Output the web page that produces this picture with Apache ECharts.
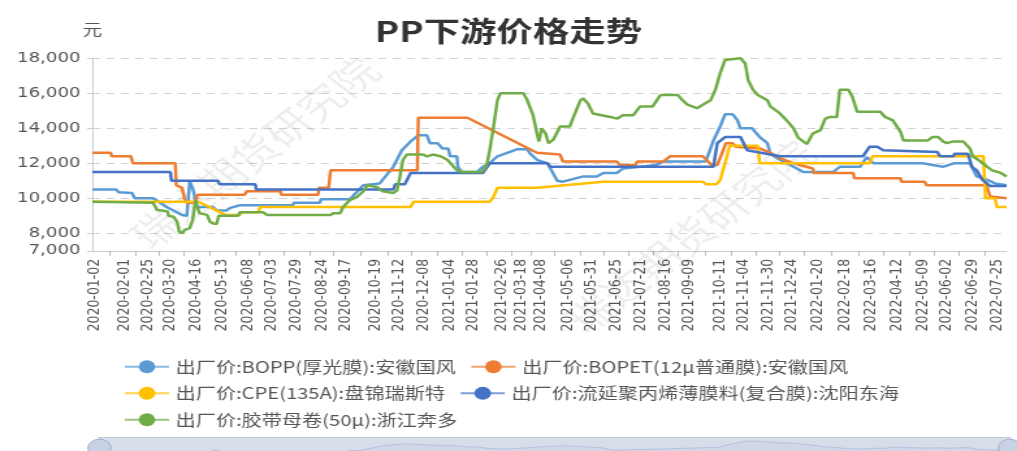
<!DOCTYPE html>
<html>
<head>
<meta charset="utf-8">
<script src="https://cdn.jsdelivr.net/npm/echarts@6.0.0/dist/echarts.min.js"></script>
<style>
  html, body { margin: 0; padding: 0; background: #fff; overflow: hidden; }
  /* the reference picture is stretched sideways, so the chart is drawn narrow and widened */
  #main { width: 782px; height: 451px; transform: scaleX(1.3005); transform-origin: 0 0; }
</style>
</head>
<body>
<div id="main"></div>
<script>
// 图例名称
const seriesNames = [
  '出厂价:BOPP(厚光膜):安徽国风',
  '出厂价:BOPET(12μ普通膜):安徽国风',
  '出厂价:CPE(135A):盘锦瑞斯特',
  '出厂价:流延聚丙烯薄膜料(复合膜):沈阳东海',
  '出厂价:胶带母卷(50μ):浙江奔多'
];
const seriesColors = ['#5b9bd5', '#ed7d31', '#ffc000', '#4472c4', '#70ad47'];

// x 轴显示的日期
const tickLabels = [
  '2020-01-02', '2020-02-01', '2020-02-25', '2020-03-20', '2020-04-16', '2020-05-13',
  '2020-06-08', '2020-07-03', '2020-07-29', '2020-08-24', '2020-09-17', '2020-10-19',
  '2020-11-12', '2020-12-08', '2021-01-04', '2021-01-28', '2021-02-26', '2021-03-18',
  '2021-04-08', '2021-05-06', '2021-05-31', '2021-06-25', '2021-07-21', '2021-08-16',
  '2021-09-09', '2021-10-11', '2021-11-04', '2021-11-30', '2021-12-24', '2022-01-20',
  '2022-02-18', '2022-03-16', '2022-04-12', '2022-05-09', '2022-06-02', '2022-06-29',
  '2022-07-25'
];
const xStart = '2019-12-30';
const xEnd = '2022-08-04';

const boppData = [
  ['2019-12-30',10500],['2020-01-24',10500],['2020-01-26',10350],['2020-02-09',10300],['2020-02-12',10000],
  ['2020-03-02',10000],['2020-03-16',9500],['2020-03-23',9300],['2020-04-01',9050],['2020-04-06',9000],
  ['2020-04-08',9000],['2020-04-09',11000],['2020-04-13',10400],['2020-04-16',9500],['2020-05-03',9500],
  ['2020-05-07',9300],['2020-05-17',9300],['2020-05-21',9450],['2020-05-31',9600],['2020-07-25',9600],
  ['2020-07-26',9750],['2020-08-22',9750],['2020-08-23',9950],['2020-09-22',9950],['2020-10-06',10750],
  ['2020-10-23',10850],['2020-11-06',11800],['2020-11-15',12750],['2020-11-24',13250],['2020-12-02',13600],
  ['2020-12-11',13600],['2020-12-14',13150],['2020-12-22',13150],['2020-12-27',12850],['2021-01-02',12850],
  ['2021-01-04',12400],['2021-01-11',12400],['2021-01-12',11800],['2021-01-16',11500],['2021-02-01',11500],
  ['2021-02-07',11800],['2021-02-14',12000],['2021-02-22',12400],['2021-03-07',12650],['2021-03-14',12800],
  ['2021-03-25',12800],['2021-03-28',12550],['2021-04-04',12200],['2021-04-15',12000],['2021-04-25',11000],
  ['2021-05-01',10950],['2021-05-22',11250],['2021-06-05',11250],['2021-06-12',11450],['2021-06-26',11450],
  ['2021-07-02',11700],['2021-07-20',11800],['2021-08-05',11900],['2021-08-13',12100],['2021-09-26',12100],
  ['2021-10-04',13300],['2021-10-11',14100],['2021-10-16',14800],['2021-10-24',14800],['2021-10-29',14450],
  ['2021-11-01',14000],['2021-11-13',14000],['2021-11-21',13500],['2021-11-29',13150],['2021-12-02',12550],
  ['2021-12-12',12200],['2021-12-26',11800],['2022-01-05',11500],['2022-02-05',11500],['2022-02-12',11800],
  ['2022-03-05',11800],['2022-03-12',12350],['2022-03-19',12000],['2022-05-03',12000],['2022-05-04',11900],
  ['2022-05-09',12000],['2022-05-30',11800],['2022-06-10',12000],['2022-06-27',12000],['2022-07-04',11250],
  ['2022-07-15',11050],['2022-07-23',10850],['2022-08-04',10750]
];

const bopetData = [
  ['2019-12-30',12600],['2020-01-18',12600],['2020-01-19',12400],['2020-02-08',12400],['2020-02-10',12000],
  ['2020-03-25',12000],['2020-03-26',10750],['2020-04-01',10600],['2020-04-04',9900],['2020-04-06',9750],
  ['2020-04-15',9750],['2020-04-17',10200],['2020-06-05',10200],['2020-06-07',10400],['2020-07-12',10400],
  ['2020-07-13',10200],['2020-08-20',10200],['2020-08-21',10600],['2020-08-31',10600],['2020-09-02',11600],
  ['2020-12-01',11600],['2020-12-02',14600],['2021-01-22',14600],['2021-04-04',12600],['2021-04-28',12500],
  ['2021-05-01',12100],['2021-06-26',12100],['2021-06-29',11900],['2021-07-15',11900],['2021-07-17',12100],
  ['2021-08-13',12100],['2021-08-20',12400],['2021-09-23',12400],['2021-10-02',11900],['2021-10-08',11900],
  ['2021-10-17',13150],['2021-10-24',13150],['2021-10-27',12950],['2021-11-21',12850],['2021-12-02',12600],
  ['2021-12-12',12300],['2021-12-26',12000],['2022-01-15',11700],['2022-01-16',11450],['2022-02-26',11450],
  ['2022-02-27',11150],['2022-04-16',11150],['2022-04-17',10950],['2022-05-11',10950],['2022-05-13',10750],
  ['2022-07-14',10750],['2022-07-18',10100],['2022-07-20',10000],['2022-08-04',10000]
];

const cpeData = [
  ['2019-12-30',9800],['2020-04-18',9800],['2020-05-16',9050],['2020-05-31',9050],['2020-06-01',9200],
  ['2020-06-19',9200],['2020-06-21',9500],['2020-11-24',9500],['2020-11-27',9800],['2021-02-14',9800],
  ['2021-02-18',10100],['2021-02-22',10600],['2021-04-04',10600],['2021-06-12',10950],['2021-09-23',10950],
  ['2021-09-26',10800],['2021-10-07',10800],['2021-10-11',11050],['2021-10-16',12000],['2021-10-21',13000],
  ['2021-11-19',13000],['2021-11-21',12000],['2022-03-15',12000],['2022-03-18',12400],['2022-07-11',12400],
  ['2022-07-13',10000],['2022-07-23',10000],['2022-07-25',9500],['2022-08-04',9500]
];

const castData = [
  ['2019-12-30',11500],['2020-03-20',11500],['2020-03-21',11000],['2020-05-08',11000],['2020-05-10',10800],
  ['2020-06-16',10800],['2020-06-17',10500],['2020-11-06',10500],['2020-11-08',10800],['2020-11-18',10800],
  ['2020-11-24',11450],['2021-02-07',11450],['2021-02-14',12000],['2021-04-15',12000],['2021-04-18',11800],
  ['2021-10-04',11800],['2021-10-08',13150],['2021-10-16',13500],['2021-11-01',13500],['2021-11-08',12750],
  ['2021-12-12',12400],['2022-03-08',12400],['2022-03-15',12950],['2022-03-23',12950],['2022-03-29',12750],
  ['2022-05-24',12650],['2022-05-27',12400],['2022-06-10',12400],['2022-06-11',12550],['2022-06-25',12550],
  ['2022-06-29',11800],['2022-07-04',11600],['2022-07-10',11050],['2022-07-18',10700],['2022-08-04',10700]
];

const tapeData = [
  ['2019-12-30',9800],['2020-03-02',9750],['2020-03-06',9350],['2020-03-17',9250],['2020-03-18',9000],
  ['2020-03-23',8950],['2020-03-27',8650],['2020-03-29',8100],['2020-04-01',8000],['2020-04-04',8200],
  ['2020-04-09',8300],['2020-04-12',8750],['2020-04-15',9900],['2020-04-17',10000],['2020-04-19',9150],
  ['2020-04-27',9050],['2020-04-30',8650],['2020-05-04',8550],['2020-05-07',8550],['2020-05-09',9000],
  ['2020-05-29',9000],['2020-05-31',9200],['2020-06-24',9200],['2020-06-28',9050],['2020-09-02',9050],
  ['2020-09-05',9150],['2020-09-12',9150],['2020-09-15',9500],['2020-09-22',9900],['2020-09-30',10100],
  ['2020-10-06',10400],['2020-10-10',10750],['2020-10-20',10650],['2020-10-26',10400],['2020-10-28',10300],
  ['2020-11-06',10300],['2020-11-10',10450],['2020-11-13',11250],['2020-11-16',12200],['2020-11-20',12500],
  ['2020-12-07',12500],['2020-12-11',12400],['2020-12-17',12500],['2020-12-25',12400],['2021-01-01',12200],
  ['2021-01-11',11600],['2021-01-16',11500],['2021-02-06',11500],['2021-02-11',11900],['2021-02-14',12750],
  ['2021-02-18',14100],['2021-02-22',15600],['2021-02-25',16000],['2021-03-21',16000],['2021-03-25',15600],
  ['2021-03-31',14750],['2021-04-04',13700],['2021-04-06',13250],['2021-04-09',14000],['2021-04-13',13700],
  ['2021-04-16',13150],['2021-04-21',13350],['2021-04-28',14100],['2021-05-08',14100],['2021-05-12',14650],
  ['2021-05-19',15600],['2021-05-22',15700],['2021-05-27',15400],['2021-06-01',14850],['2021-06-19',14650],
  ['2021-06-26',14550],['2021-07-02',14750],['2021-07-13',14750],['2021-07-20',15250],['2021-08-02',15250],
  ['2021-08-10',15900],['2021-08-28',15900],['2021-09-02',15600],['2021-09-07',15350],['2021-09-17',15150],
  ['2021-09-23',15350],['2021-10-01',15600],['2021-10-06',16200],['2021-10-11',17150],['2021-10-16',17900],
  ['2021-10-18',18000],['2021-11-01',18000],['2021-11-06',17700],['2021-11-09',16750],['2021-11-14',16200],
  ['2021-11-19',15900],['2021-11-29',15600],['2021-12-02',15250],['2021-12-12',14850],['2021-12-19',14450],
  ['2021-12-26',14000],['2021-12-31',13450],['2022-01-09',13100],['2022-01-15',13700],['2022-01-23',13900],
  ['2022-01-28',14550],['2022-02-02',14650],['2022-02-09',14650],['2022-02-12',16200],['2022-02-21',16200],
  ['2022-02-25',15800],['2022-03-02',14950],['2022-03-26',14950],['2022-03-31',14650],['2022-04-08',14450],
  ['2022-04-16',13800],['2022-04-19',13300],['2022-05-14',13300],['2022-05-19',13500],['2022-05-25',13500],
  ['2022-05-30',13250],['2022-06-03',13150],['2022-06-10',13250],['2022-06-20',13250],['2022-06-27',12850],
  ['2022-06-30',12400],['2022-07-08',12100],['2022-07-15',11800],['2022-07-20',11600],['2022-07-29',11450],
  ['2022-08-04',11250]
];

const allData = [boppData, bopetData, cpeData, castData, tapeData];

function parseDay(s) {
  const p = s.split('-');
  return new Date(+p[0], +p[1] - 1, +p[2]).getTime();
}
function pad(n) { return n < 10 ? '0' + n : '' + n; }
function fmtDay(v) {
  const d = new Date(v);
  return d.getFullYear() + '-' + pad(d.getMonth() + 1) + '-' + pad(d.getDate());
}

// 日期转成时间戳，画在数值轴上
const labelTimes = tickLabels.map(parseDay);
const tickTimes = [];
for (let i = 0; i < labelTimes.length - 1; i++) {
  tickTimes.push((labelTimes[i] + labelTimes[i + 1]) / 2);
}

const chart = echarts.init(document.getElementById('main'));
chart.setOption({
  animation: false,
  color: seriesColors,
  title: {
    text: 'PP下游价格走势',
    left: 'center',
    top: 12,
    textStyle: { fontSize: 28, fontWeight: 'bold', color: '#333', fontFamily: 'Noto Sans CJK SC' }
  },
  graphic: [
    {
      type: 'text', x: 196, y: 153, rotation: Math.PI / 4, z: 1, silent: true,
      style: { text: '瑞达期货研究院', fontSize: 36, fontFamily: 'Noto Sans CJK SC',
        fill: 'rgba(0,0,0,0.07)', align: 'center', verticalAlign: 'middle' }
    },
    {
      type: 'text', x: 531, y: 236, rotation: Math.PI / 4, z: 1, silent: true,
      style: { text: '瑞达期货研究院', fontSize: 36, fontFamily: 'Noto Sans CJK SC',
        fill: 'rgba(0,0,0,0.07)', align: 'center', verticalAlign: 'middle' }
    }
  ],
  legend: {
    left: 90,
    right: 40,
    top: 354,
    itemWidth: 34,
    itemHeight: 16,
    itemGap: 11,
    lineStyle: { width: 2, opacity: 0.7 },
    textStyle: { fontSize: 15.5, color: '#555', fontFamily: 'Noto Sans CJK SC' },
    data: seriesNames
  },
  grid: { left: 71, right: 8, top: 58.3, bottom: 200.2 },
  xAxis: {
    type: 'value',
    min: parseDay(xStart),
    max: parseDay(xEnd),
    splitLine: { show: false },
    axisLine: { show: true, lineStyle: { color: '#ccc' } },
    axisTick: { show: true, length: 5, customValues: tickTimes, lineStyle: { color: '#bbb' } },
    axisLabel: {
      rotate: 90,
      customValues: labelTimes,
      formatter: fmtDay,
      fontSize: 12.5,
      fontFamily: 'DejaVu Sans',
      color: '#555',
      margin: 8
    }
  },
  yAxis: {
    type: 'value',
    min: 7000,
    max: 18000,
    name: '元',
    nameLocation: 'end',
    nameGap: 22,
    nameTextStyle: { fontSize: 15, color: '#555', fontFamily: 'Noto Sans CJK SC' },
    axisLine: { show: true, lineStyle: { color: '#ccc' } },
    axisTick: { show: true, length: 4, lineStyle: { color: '#ccc' } },
    axisLabel: { fontSize: 14, color: '#555', fontFamily: 'DejaVu Sans', margin: 9 },
    splitLine: { lineStyle: { type: [6, 5], color: '#d3d3d3' } }
  },
  dataZoom: [{
    type: 'slider',
    xAxisIndex: 0,
    start: 0,
    end: 100,
    filterMode: 'none',
    top: 437,
    height: 22,
    left: 73,
    right: 7,
    showDetail: false,
    brushSelect: false,
    moveHandleSize: 0,
    handleIcon: 'circle',
    handleSize: '80%',
    handleStyle: { color: '#c8d2e3', borderColor: '#9fb0cc' },
    backgroundColor: 'rgba(210,218,232,0.6)',
    fillerColor: 'rgba(190,200,220,0.35)',
    borderColor: '#c3cbda',
    dataBackground: {
      lineStyle: { color: '#b5c0d4', width: 1 },
      areaStyle: { color: '#d5dbe8' }
    }
  }],
  series: seriesNames.map(function (name, i) {
    return {
      name: name,
      type: 'line',
      data: allData[i].map(function (d) { return [parseDay(d[0]), d[1]]; }),
      symbol: 'circle',
      showSymbol: false,
      lineStyle: { width: 2.5 }
    };
  })
});
</script>
</body>
</html>
